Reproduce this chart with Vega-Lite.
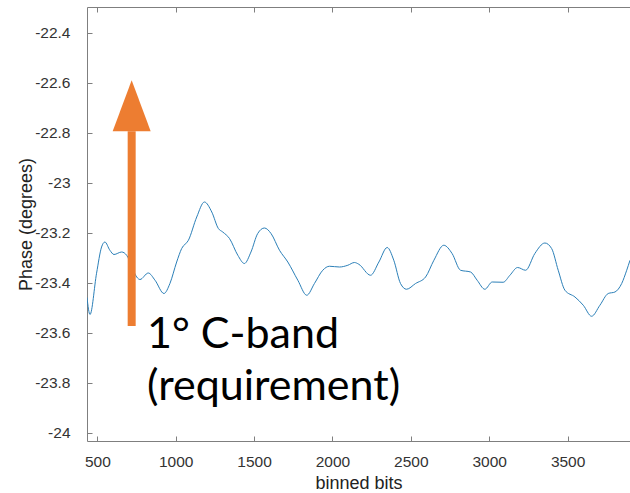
{
  "$schema": "https://vega.github.io/schema/vega-lite/v6.json",
  "width": 543,
  "height": 434,
  "autosize": {"type": "none"},
  "padding": {"left": 87, "top": 7, "right": 0, "bottom": 52},
  "background": "white",
  "view": {"stroke": null},
  "config": {
    "axis": {
      "labelFont": "Liberation Sans",
      "labelFontSize": 15.5,
      "labelColor": "#333333",
      "titleFont": "Liberation Sans",
      "titleFontSize": 18,
      "titleFontWeight": "normal",
      "titleColor": "#222222",
      "domainColor": "#7f7f7f",
      "tickColor": "#7f7f7f",
      "domainWidth": 1,
      "tickWidth": 1,
      "tickSize": -5,
      "grid": false
    }
  },
  "datasets": {
    "phase": [
      {"bits": 434, "phase": -23.46},
      {"bits": 453, "phase": -23.528},
      {"bits": 495, "phase": -23.363},
      {"bits": 527, "phase": -23.258},
      {"bits": 548, "phase": -23.238},
      {"bits": 580, "phase": -23.271},
      {"bits": 606, "phase": -23.288},
      {"bits": 655, "phase": -23.278},
      {"bits": 687, "phase": -23.291},
      {"bits": 719, "phase": -23.335},
      {"bits": 751, "phase": -23.378},
      {"bits": 772, "phase": -23.388},
      {"bits": 825, "phase": -23.362},
      {"bits": 868, "phase": -23.391},
      {"bits": 925, "phase": -23.444},
      {"bits": 963, "phase": -23.404},
      {"bits": 1006, "phase": -23.318},
      {"bits": 1038, "phase": -23.264},
      {"bits": 1081, "phase": -23.231},
      {"bits": 1134, "phase": -23.138},
      {"bits": 1183, "phase": -23.078},
      {"bits": 1230, "phase": -23.118},
      {"bits": 1272, "phase": -23.184},
      {"bits": 1300, "phase": -23.198},
      {"bits": 1343, "phase": -23.224},
      {"bits": 1396, "phase": -23.291},
      {"bits": 1438, "phase": -23.324},
      {"bits": 1480, "phase": -23.278},
      {"bits": 1523, "phase": -23.204},
      {"bits": 1566, "phase": -23.182},
      {"bits": 1608, "phase": -23.204},
      {"bits": 1662, "phase": -23.271},
      {"bits": 1715, "phase": -23.318},
      {"bits": 1779, "phase": -23.391},
      {"bits": 1836, "phase": -23.451},
      {"bits": 1885, "phase": -23.404},
      {"bits": 1938, "phase": -23.351},
      {"bits": 1981, "phase": -23.335},
      {"bits": 2045, "phase": -23.338},
      {"bits": 2098, "phase": -23.331},
      {"bits": 2140, "phase": -23.32},
      {"bits": 2168, "phase": -23.327},
      {"bits": 2243, "phase": -23.371},
      {"bits": 2296, "phase": -23.318},
      {"bits": 2349, "phase": -23.26},
      {"bits": 2391, "phase": -23.311},
      {"bits": 2434, "phase": -23.404},
      {"bits": 2472, "phase": -23.427},
      {"bits": 2530, "phase": -23.404},
      {"bits": 2594, "phase": -23.378},
      {"bits": 2647, "phase": -23.311},
      {"bits": 2710, "phase": -23.251},
      {"bits": 2763, "phase": -23.284},
      {"bits": 2817, "phase": -23.351},
      {"bits": 2881, "phase": -23.358},
      {"bits": 2923, "phase": -23.391},
      {"bits": 2972, "phase": -23.427},
      {"bits": 3019, "phase": -23.398},
      {"bits": 3089, "phase": -23.399},
      {"bits": 3132, "phase": -23.371},
      {"bits": 3181, "phase": -23.34},
      {"bits": 3232, "phase": -23.351},
      {"bits": 3291, "phase": -23.284},
      {"bits": 3355, "phase": -23.242},
      {"bits": 3398, "phase": -23.264},
      {"bits": 3440, "phase": -23.351},
      {"bits": 3483, "phase": -23.431},
      {"bits": 3547, "phase": -23.458},
      {"bits": 3600, "phase": -23.491},
      {"bits": 3653, "phase": -23.535},
      {"bits": 3706, "phase": -23.491},
      {"bits": 3759, "phase": -23.444},
      {"bits": 3802, "phase": -23.438},
      {"bits": 3845, "phase": -23.404},
      {"bits": 3877, "phase": -23.351},
      {"bits": 3898, "phase": -23.311}
    ],
    "shaft": [
      {"bits": 719, "phase": -23.574, "phase2": -22.795}
    ],
    "head": [
      {"bits": 719, "phase": -22.693}
    ],
    "note": [
      {"bits": 817, "phase": -23.662, "label": "1° C-band\n(requirement)"}
    ]
  },
  "layer": [
    {
      "data": {"name": "phase"},
      "mark": {"type": "line", "color": "#2b7fb8", "strokeWidth": 1, "interpolate": "monotone", "clip": true},
      "encoding": {
        "x": {
          "field": "bits", "type": "quantitative",
          "scale": {"domain": [434, 3898], "nice": false, "zero": false},
          "axis": {
            "orient": "bottom",
            "title": "binned bits",
            "values": [500, 1000, 1500, 2000, 2500, 3000, 3500],
            "labelExpr": "'' + datum.value",
            "labelPadding": 18,
            "titlePadding": 5
          }
        },
        "y": {
          "field": "phase", "type": "quantitative",
          "scale": {"domain": [-24.034, -22.298], "nice": false, "zero": false},
          "axis": {
            "orient": "left",
            "title": "Phase (degrees)",
            "values": [-24, -23.8, -23.6, -23.4, -23.2, -23, -22.8, -22.6, -22.4],
            "labelExpr": "'' + datum.value",
            "labelPadding": 22,
            "titlePadding": -1
          }
        }
      }
    },
    {
      "data": {"name": "phase"},
      "mark": {"type": "line", "opacity": 0},
      "encoding": {
        "x": {
          "field": "bits", "type": "quantitative",
          "scale": {"domain": [434, 3898], "nice": false, "zero": false},
          "axis": {
            "orient": "top",
            "title": null,
            "labels": false,
            "values": [500, 1000, 1500, 2000, 2500, 3000, 3500]
          }
        },
        "y": {"field": "phase", "type": "quantitative"}
      }
    },
    {
      "data": {"name": "shaft"},
      "mark": {"type": "rule", "color": "#ED7D31", "strokeWidth": 8},
      "encoding": {
        "x": {"field": "bits", "type": "quantitative", "axis": null},
        "y": {"field": "phase", "type": "quantitative"},
        "y2": {"field": "phase2"}
      }
    },
    {
      "data": {"name": "head"},
      "mark": {"type": "point", "shape": "M0,-1L0.745,1L-0.745,1Z", "size": 2601, "filled": true, "color": "#ED7D31", "opacity": 1, "strokeWidth": 0},
      "encoding": {
        "x": {"field": "bits", "type": "quantitative", "axis": null},
        "y": {"field": "phase", "type": "quantitative"}
      }
    },
    {
      "data": {"name": "note"},
      "mark": {"type": "text", "align": "left", "baseline": "alphabetic", "font": "Lato", "fontSize": 43, "lineHeight": 52, "lineBreak": "\n", "color": "#000000"},
      "encoding": {
        "x": {"field": "bits", "type": "quantitative", "axis": null},
        "y": {"field": "phase", "type": "quantitative"},
        "text": {"field": "label"}
      }
    }
  ],
  "resolve": {"scale": {"x": "shared", "y": "shared"}, "axis": {"x": "independent", "y": "shared"}}
}
